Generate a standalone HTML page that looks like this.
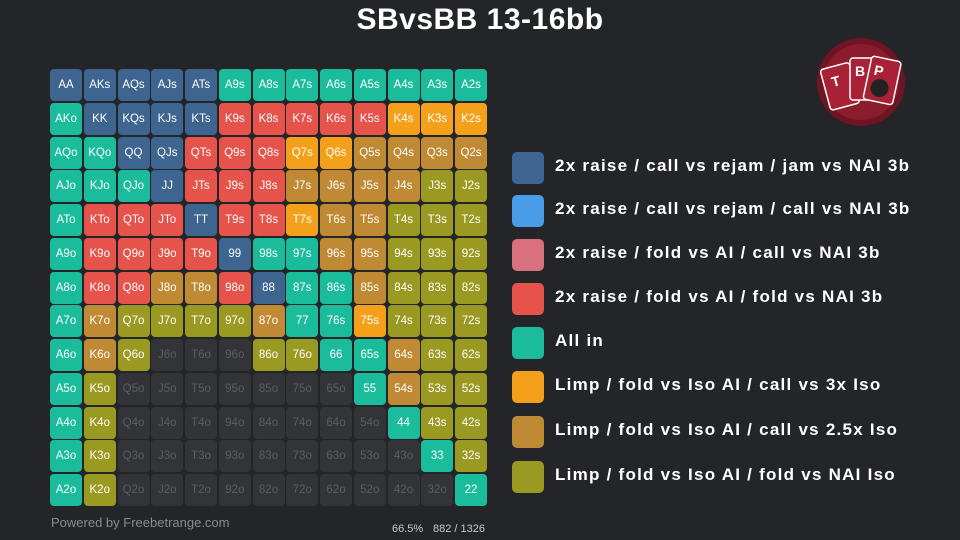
<!DOCTYPE html>
<html><head><meta charset="utf-8"><style>
*{margin:0;padding:0;box-sizing:border-box}
body{width:960px;height:540px;background:#242529;position:relative;overflow:hidden;font-family:"Liberation Sans",sans-serif}
h1{position:absolute;top:3px;left:0;width:960px;text-align:center;color:#fff;font-size:30px;font-weight:bold;letter-spacing:0.5px}
.g{position:absolute;left:50px;top:69px;display:grid;grid-template-columns:repeat(13,32px);grid-template-rows:repeat(13,32px);gap:1.75px}
.g div{border-radius:4px;color:#fff;font-size:11.5px;display:flex;align-items:center;justify-content:center}
.B{background:#3d6590}.T{background:#1abc9c}.R{background:#e5534b}.O{background:#f5a01a}.W{background:#c08a35}.L{background:#9a9a22}.G{background:#333438;color:#5c5d61!important}
.lg{position:absolute;left:512px;width:32px;height:32px;border-radius:5px}
.lt{position:absolute;left:555px;color:#fff;font-size:17px;font-weight:bold;letter-spacing:1.25px}
.ft{position:absolute;color:#8a8b8f;font-size:13px}
</style></head><body>
<h1>SBvsBB 13-16bb</h1>
<div class="g">
<div class="B">AA</div><div class="B">AKs</div><div class="B">AQs</div><div class="B">AJs</div><div class="B">ATs</div><div class="T">A9s</div><div class="T">A8s</div><div class="T">A7s</div><div class="T">A6s</div><div class="T">A5s</div><div class="T">A4s</div><div class="T">A3s</div><div class="T">A2s</div>
<div class="T">AKo</div><div class="B">KK</div><div class="B">KQs</div><div class="B">KJs</div><div class="B">KTs</div><div class="R">K9s</div><div class="R">K8s</div><div class="R">K7s</div><div class="R">K6s</div><div class="R">K5s</div><div class="O">K4s</div><div class="O">K3s</div><div class="O">K2s</div>
<div class="T">AQo</div><div class="T">KQo</div><div class="B">QQ</div><div class="B">QJs</div><div class="R">QTs</div><div class="R">Q9s</div><div class="R">Q8s</div><div class="O">Q7s</div><div class="O">Q6s</div><div class="W">Q5s</div><div class="W">Q4s</div><div class="W">Q3s</div><div class="W">Q2s</div>
<div class="T">AJo</div><div class="T">KJo</div><div class="T">QJo</div><div class="B">JJ</div><div class="R">JTs</div><div class="R">J9s</div><div class="R">J8s</div><div class="W">J7s</div><div class="W">J6s</div><div class="W">J5s</div><div class="W">J4s</div><div class="L">J3s</div><div class="L">J2s</div>
<div class="T">ATo</div><div class="R">KTo</div><div class="R">QTo</div><div class="R">JTo</div><div class="B">TT</div><div class="R">T9s</div><div class="R">T8s</div><div class="O">T7s</div><div class="W">T6s</div><div class="W">T5s</div><div class="L">T4s</div><div class="L">T3s</div><div class="L">T2s</div>
<div class="T">A9o</div><div class="R">K9o</div><div class="R">Q9o</div><div class="R">J9o</div><div class="R">T9o</div><div class="B">99</div><div class="T">98s</div><div class="T">97s</div><div class="W">96s</div><div class="W">95s</div><div class="L">94s</div><div class="L">93s</div><div class="L">92s</div>
<div class="T">A8o</div><div class="R">K8o</div><div class="R">Q8o</div><div class="W">J8o</div><div class="W">T8o</div><div class="R">98o</div><div class="B">88</div><div class="T">87s</div><div class="T">86s</div><div class="W">85s</div><div class="L">84s</div><div class="L">83s</div><div class="L">82s</div>
<div class="T">A7o</div><div class="W">K7o</div><div class="L">Q7o</div><div class="L">J7o</div><div class="L">T7o</div><div class="L">97o</div><div class="W">87o</div><div class="T">77</div><div class="T">76s</div><div class="O">75s</div><div class="L">74s</div><div class="L">73s</div><div class="L">72s</div>
<div class="T">A6o</div><div class="W">K6o</div><div class="L">Q6o</div><div class="G">J6o</div><div class="G">T6o</div><div class="G">96o</div><div class="L">86o</div><div class="L">76o</div><div class="T">66</div><div class="T">65s</div><div class="W">64s</div><div class="L">63s</div><div class="L">62s</div>
<div class="T">A5o</div><div class="L">K5o</div><div class="G">Q5o</div><div class="G">J5o</div><div class="G">T5o</div><div class="G">95o</div><div class="G">85o</div><div class="G">75o</div><div class="G">65o</div><div class="T">55</div><div class="W">54s</div><div class="L">53s</div><div class="L">52s</div>
<div class="T">A4o</div><div class="L">K4o</div><div class="G">Q4o</div><div class="G">J4o</div><div class="G">T4o</div><div class="G">94o</div><div class="G">84o</div><div class="G">74o</div><div class="G">64o</div><div class="G">54o</div><div class="T">44</div><div class="L">43s</div><div class="L">42s</div>
<div class="T">A3o</div><div class="L">K3o</div><div class="G">Q3o</div><div class="G">J3o</div><div class="G">T3o</div><div class="G">93o</div><div class="G">83o</div><div class="G">73o</div><div class="G">63o</div><div class="G">53o</div><div class="G">43o</div><div class="T">33</div><div class="L">32s</div>
<div class="T">A2o</div><div class="L">K2o</div><div class="G">Q2o</div><div class="G">J2o</div><div class="G">T2o</div><div class="G">92o</div><div class="G">82o</div><div class="G">72o</div><div class="G">62o</div><div class="G">52o</div><div class="G">42o</div><div class="G">32o</div><div class="T">22</div>
</div>
<div class="lg" style="top:152px;background:#3d6590"></div><div class="lt" style="top:156px">2x raise / call vs rejam / jam vs NAI 3b</div>
<div class="lg" style="top:195px;background:#4a9be8"></div><div class="lt" style="top:199px">2x raise / call vs rejam / call vs NAI 3b</div>
<div class="lg" style="top:239px;background:#d9707e"></div><div class="lt" style="top:243px">2x raise / fold vs AI / call vs NAI 3b</div>
<div class="lg" style="top:283px;background:#e5534b"></div><div class="lt" style="top:287px">2x raise / fold vs AI / fold vs NAI 3b</div>
<div class="lg" style="top:327px;background:#1abc9c"></div><div class="lt" style="top:331px">All in</div>
<div class="lg" style="top:371px;background:#f5a01a"></div><div class="lt" style="top:375px">Limp / fold vs Iso AI / call vs 3x Iso</div>
<div class="lg" style="top:416px;background:#c08a35"></div><div class="lt" style="top:420px">Limp / fold vs Iso AI / call vs 2.5x Iso</div>
<div class="lg" style="top:461px;background:#9a9a22"></div><div class="lt" style="top:465px">Limp / fold vs Iso AI / fold vs NAI Iso</div>
<div class="ft" style="left:51px;top:515px">Powered by Freebetrange.com</div>
<div class="ft" style="left:392px;top:523px;font-size:11px;color:#c8c8cc">66.5%</div>
<div class="ft" style="left:433px;top:523px;font-size:11px;color:#c8c8cc">882 / 1326</div>
<svg style="position:absolute;left:815px;top:36px" width="92" height="92" viewBox="0 0 92 92">
<circle cx="46" cy="46" r="44" fill="#6e1422"/><circle cx="46" cy="46" r="38" fill="#8a1c2c"/>
<g transform="rotate(-15 30 50)"><rect x="10" y="28" width="30" height="42" rx="3" fill="#a82136" stroke="#fff" stroke-width="1.5"/><text x="18" y="48" fill="#fff" font-size="14" font-weight="bold" font-family="Liberation Sans">T</text></g>
<rect x="35" y="22" width="28" height="42" rx="3" fill="#a82136" stroke="#fff" stroke-width="1.5"/><text x="40" y="40" fill="#fff" font-size="14" font-weight="bold" font-family="Liberation Sans">B</text>
<g transform="rotate(12 65 45)"><rect x="52" y="22" width="30" height="44" rx="3" fill="#a82136" stroke="#fff" stroke-width="1.5"/><text x="57" y="40" fill="#fff" font-size="14" font-weight="bold" font-family="Liberation Sans">P</text><circle cx="66" cy="52" r="9" fill="#222"/></g>
</svg>
</body></html>
